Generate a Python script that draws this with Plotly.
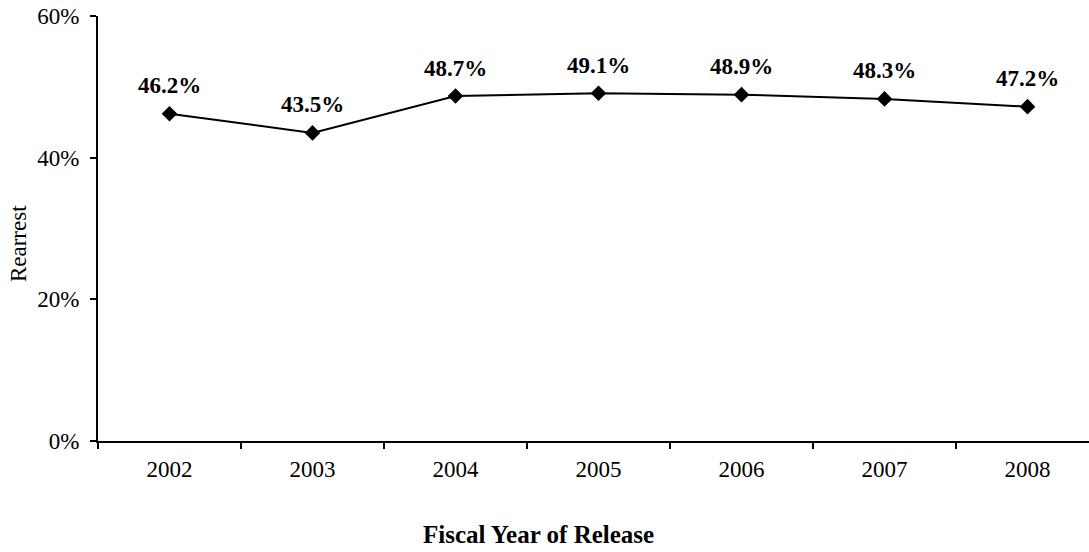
import plotly.graph_objects as go

# Rearrest rate by fiscal year of release
years = ["2002", "2003", "2004", "2005", "2006", "2007", "2008"]
rearrest_pct = [46.2, 43.5, 48.7, 49.1, 48.9, 48.3, 47.2]
y_ticks = [0, 20, 40, 60]

SERIF = "Liberation Serif, Times New Roman, serif"

fig = go.Figure()

fig.add_trace(go.Scatter(
    x=years,
    y=rearrest_pct,
    mode="lines+markers",
    line=dict(color="black", width=2),
    marker=dict(symbol="diamond", size=12, color="black"),
    cliponaxis=False,
    showlegend=False,
))

# value labels above each point (category axis -> positional index)
for i, v in enumerate(rearrest_pct):
    fig.add_annotation(
        x=i, y=v, text=f"<b>{v:.1f}%</b>",
        showarrow=False, yshift=28,
        font=dict(family=SERIF, size=23, color="black"),
    )

# axis titles
fig.add_annotation(
    xref="paper", yref="paper", x=0.445, y=-0.221,
    text="<b>Fiscal Year of Release</b>", showarrow=False,
    font=dict(family=SERIF, size=25, color="black"),
    yanchor="middle", xanchor="center",
)
fig.add_annotation(
    xref="paper", yref="paper", x=-0.08, y=0.465,
    text="Rearrest", showarrow=False, textangle=-90,
    font=dict(family=SERIF, size=23, color="black"),
    yanchor="middle", xanchor="center",
)

fig.update_layout(
    width=1089, height=552,
    margin=dict(l=98, r=0, t=16, b=111),
    paper_bgcolor="white", plot_bgcolor="white",
    font=dict(family=SERIF, size=23, color="black"),
    xaxis=dict(
        type="category",
        range=[-0.5, 6.43],
        showline=True, linecolor="black", linewidth=2,
        ticks="outside", tickson="boundaries", ticklen=6,
        tickcolor="black", tickwidth=2,
        showgrid=False, zeroline=False,
        ticklabelstandoff=6,
    ),
    yaxis=dict(
        range=[0, 60],
        tickvals=y_ticks,
        ticktext=[f"{t}%" for t in y_ticks],
        showline=True, linecolor="black", linewidth=2,
        ticks="outside", ticklen=6, tickcolor="black", tickwidth=2,
        showgrid=False, zeroline=False,
        ticklabelstandoff=6,
    ),
)

fig.write_html("out.html")
